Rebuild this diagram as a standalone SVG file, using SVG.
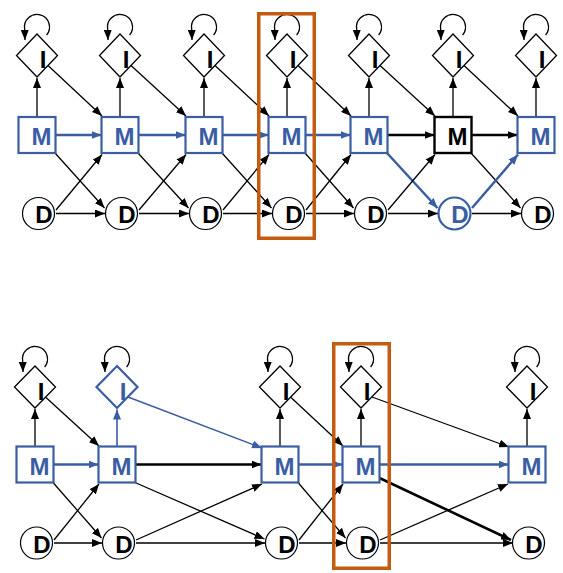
<svg xmlns="http://www.w3.org/2000/svg" width="563" height="573" viewBox="0 0 563 573">
<defs>
<marker id="ab" markerUnits="userSpaceOnUse" markerWidth="10" markerHeight="8" viewBox="0 0 10 8" refX="10" refY="4" orient="auto"><path d="M0,0 L10,4 L0,8 z" fill="#000"/></marker>
<marker id="abl" markerUnits="userSpaceOnUse" markerWidth="10" markerHeight="8" viewBox="0 0 10 8" refX="10" refY="4" orient="auto"><path d="M0,0 L10,4 L0,8 z" fill="#3A5DA4"/></marker>
<style>
.e{stroke:#000;stroke-width:1.3;fill:none;marker-end:url(#ab)}
.ek{stroke:#000;stroke-width:2.6;fill:none;marker-end:url(#ab)}
.eb{stroke:#3A5DA4;stroke-width:2.5;fill:none;marker-end:url(#abl)}
.ebt{stroke:#3A5DA4;stroke-width:1.4;fill:none;marker-end:url(#abl)}
.dia{fill:#fff;stroke:#000;stroke-width:1.3}
.diab{fill:#fff;stroke:#3A5DA4;stroke-width:2.2}
.mb{fill:#fff;stroke:#3A5DA4;stroke-width:2.2}
.mk{fill:#fff;stroke:#000;stroke-width:2.4}
.dc{fill:#fff;stroke:#000;stroke-width:1.2}
.dcb{fill:#fff;stroke:#3A5DA4;stroke-width:2.2}
.t{font-family:"Liberation Sans",Arial,sans-serif;font-weight:bold;font-size:24px;text-anchor:middle;fill:#000}
.tb{fill:#3A5DA4}
.hl{fill:none;stroke:#C55A11;stroke-width:3.5}
</style>
</defs>
<g id="connectors">
<!-- top loops -->
<path class="e" d="M46.6,35 A12.5 12.5 0 1 0 24.7,29.2 L25,40"/>
<path class="e" d="M129.6,35 A12.5 12.5 0 1 0 107.7,29.2 L108,40"/>
<path class="e" d="M213.6,35 A12.5 12.5 0 1 0 191.7,29.2 L192,40"/>
<path class="e" d="M296.6,35 A12.5 12.5 0 1 0 274.7,29.2 L275,40"/>
<path class="e" d="M378.6,35 A12.5 12.5 0 1 0 356.7,29.2 L357,40"/>
<path class="e" d="M462.6,35 A12.5 12.5 0 1 0 440.7,29.2 L441,40"/>
<path class="e" d="M545.6,35 A12.5 12.5 0 1 0 523.7,29.2 L524,40"/>
<!-- top M->I -->
<line class="e" x1="37" y1="117" x2="37" y2="78"/>
<line class="e" x1="120" y1="117" x2="120" y2="78"/>
<line class="e" x1="204" y1="117" x2="204" y2="78"/>
<line class="e" x1="287" y1="117" x2="287" y2="78"/>
<line class="e" x1="369" y1="117" x2="369" y2="78"/>
<line class="e" x1="453" y1="117" x2="453" y2="78"/>
<line class="e" x1="536" y1="117" x2="536" y2="78"/>
<!-- top I->M next -->
<line class="e" x1="48" y1="65.5" x2="102" y2="116"/>
<line class="e" x1="131" y1="65.5" x2="186" y2="116"/>
<line class="e" x1="215" y1="65.5" x2="269" y2="116"/>
<line class="e" x1="298" y1="65.5" x2="351" y2="116"/>
<line class="e" x1="380" y1="65.5" x2="435" y2="116"/>
<line class="e" x1="464" y1="65.5" x2="518" y2="116"/>
<!-- top M->M -->
<line class="eb" x1="55.5" y1="135" x2="101.5" y2="135"/>
<line class="eb" x1="138.5" y1="135" x2="185.5" y2="135"/>
<line class="eb" x1="222.5" y1="135" x2="268.5" y2="135"/>
<line class="eb" x1="305.5" y1="135" x2="350.5" y2="135"/>
<line class="ek" x1="387.5" y1="135" x2="434.5" y2="135"/>
<line class="ek" x1="471.5" y1="135" x2="517.5" y2="135"/>
<!-- top M->D next -->
<line class="e" x1="55" y1="153" x2="104.5" y2="208"/>
<line class="e" x1="138" y1="153" x2="188.5" y2="208"/>
<line class="e" x1="222" y1="153" x2="271.5" y2="208"/>
<line class="e" x1="305" y1="153" x2="353.5" y2="208"/>
<line class="eb" x1="387" y1="153" x2="437.5" y2="208"/>
<line class="e" x1="471" y1="153" x2="520.5" y2="208"/>
<!-- top D->M next -->
<line class="e" x1="56" y1="210" x2="102" y2="154.5"/>
<line class="e" x1="139" y1="210" x2="186" y2="154.5"/>
<line class="e" x1="223" y1="210" x2="269" y2="154.5"/>
<line class="e" x1="306" y1="210" x2="351" y2="154.5"/>
<line class="e" x1="388" y1="210" x2="435" y2="154.5"/>
<line class="eb" x1="472" y1="208" x2="518" y2="154.5"/>
<!-- top D->D -->
<line class="e" x1="56" y1="213.5" x2="105" y2="213.5"/>
<line class="e" x1="139" y1="213.5" x2="189" y2="213.5"/>
<line class="e" x1="223" y1="213.5" x2="272" y2="213.5"/>
<line class="e" x1="306" y1="213.5" x2="354" y2="213.5"/>
<line class="e" x1="388" y1="213.5" x2="438" y2="213.5"/>
<line class="e" x1="472" y1="213.5" x2="521" y2="213.5"/>

<!-- bottom loops -->
<path class="e" d="M44.6,367 A12.5 12.5 0 1 0 22.7,361.2 L23,372"/>
<path class="e" d="M126.6,367 A12.5 12.5 0 1 0 104.7,361.2 L105,372"/>
<path class="e" d="M289.6,367 A12.5 12.5 0 1 0 267.7,361.2 L268,372"/>
<path class="e" d="M370.6,367 A12.5 12.5 0 1 0 348.7,361.2 L349,372"/>
<path class="e" d="M536.6,367 A12.5 12.5 0 1 0 514.7,361.2 L515,372"/>
<!-- bottom M->I -->
<line class="e" x1="35" y1="446.5" x2="35" y2="409"/>
<line class="eb" x1="117" y1="446.5" x2="117" y2="409.5" style="stroke-width:1.6"/>
<line class="e" x1="280" y1="446.5" x2="280" y2="409"/>
<line class="e" x1="361" y1="446.5" x2="361" y2="409"/>
<line class="e" x1="527" y1="446.5" x2="527" y2="409"/>
<!-- bottom I->M -->
<line class="e" x1="46" y1="397.5" x2="99" y2="446"/>
<line class="ebt" x1="128" y1="397" x2="262" y2="448"/>
<line class="e" x1="291" y1="397.5" x2="343" y2="446"/>
<line class="e" x1="372" y1="397" x2="509" y2="447"/>
<!-- bottom M->M -->
<line class="eb" x1="53.5" y1="464.5" x2="98.5" y2="464.5"/>
<line class="ek" x1="135.5" y1="464.5" x2="261.5" y2="464.5"/>
<line class="eb" x1="298.5" y1="464.5" x2="342.5" y2="464.5"/>
<line class="eb" x1="379.5" y1="464.5" x2="508.5" y2="464.5"/>
<!-- bottom M->D -->
<line class="e" x1="53" y1="482.5" x2="101.5" y2="538"/>
<line class="e" x1="135" y1="482.5" x2="264.5" y2="539"/>
<line class="e" x1="298" y1="482.5" x2="345.5" y2="538"/>
<line class="ek" x1="379.5" y1="478" x2="511" y2="540"/>
<!-- bottom D->M -->
<line class="e" x1="54" y1="540" x2="99" y2="484"/>
<line class="e" x1="136" y1="540" x2="262" y2="484"/>
<line class="e" x1="299" y1="540" x2="343" y2="484"/>
<line class="e" x1="380" y1="540" x2="508" y2="484"/>
<!-- bottom D->D -->
<line class="e" x1="54" y1="543" x2="102" y2="543"/>
<line class="e" x1="136" y1="543" x2="265" y2="543"/>
<line class="e" x1="299" y1="543" x2="346" y2="543"/>
<line class="e" x1="380" y1="543" x2="513" y2="543"/>
</g>

<!-- top row nodes -->
<g id="I1"><polygon class="dia" points="37,34 57.5,55.5 37,77 16.5,55.5"/><text class="t" x="43" y="68">I</text></g>
<g id="I2"><polygon class="dia" points="120,34 140.5,55.5 120,77 99.5,55.5"/><text class="t" x="126" y="68">I</text></g>
<g id="I3"><polygon class="dia" points="204,34 224.5,55.5 204,77 183.5,55.5"/><text class="t" x="210" y="68">I</text></g>
<g id="I4"><polygon class="dia" points="287,34 307.5,55.5 287,77 266.5,55.5"/><text class="t" x="293" y="68">I</text></g>
<g id="I5"><polygon class="dia" points="369,34 389.5,55.5 369,77 348.5,55.5"/><text class="t" x="375" y="68">I</text></g>
<g id="I6"><polygon class="dia" points="453,34 473.5,55.5 453,77 432.5,55.5"/><text class="t" x="459" y="68">I</text></g>
<g id="I7"><polygon class="dia" points="536,34 556.5,55.5 536,77 515.5,55.5"/><text class="t" x="542" y="68">I</text></g>

<g id="M1"><rect class="mb" x="18.5" y="117" width="37" height="36"/><text class="t tb" x="41.5" y="145">M</text></g>
<g id="M2"><rect class="mb" x="101.5" y="117" width="37" height="36"/><text class="t tb" x="124.5" y="145">M</text></g>
<g id="M3"><rect class="mb" x="185.5" y="117" width="37" height="36"/><text class="t tb" x="208.5" y="145">M</text></g>
<g id="M4"><rect class="mb" x="268.5" y="117" width="37" height="36"/><text class="t tb" x="291.5" y="145">M</text></g>
<g id="M5"><rect class="mb" x="350.5" y="117" width="37" height="36"/><text class="t tb" x="373.5" y="145">M</text></g>
<g id="M6"><rect class="mk" x="434.5" y="117" width="37" height="36"/><text class="t" x="457.5" y="145">M</text></g>
<g id="M7"><rect class="mb" x="517.5" y="117" width="37" height="36"/><text class="t tb" x="540.5" y="145">M</text></g>

<g id="D1"><circle class="dc" cx="38.5" cy="213.5" r="16"/><text class="t" x="44" y="223">D</text></g>
<g id="D2"><circle class="dc" cx="121.5" cy="213.5" r="16"/><text class="t" x="127" y="223">D</text></g>
<g id="D3"><circle class="dc" cx="205.5" cy="213.5" r="16"/><text class="t" x="211" y="223">D</text></g>
<g id="D4"><circle class="dc" cx="288.5" cy="213.5" r="16"/><text class="t" x="294" y="223">D</text></g>
<g id="D5"><circle class="dc" cx="370.5" cy="213.5" r="16"/><text class="t" x="376" y="223">D</text></g>
<g id="D6"><circle class="dcb" cx="454.5" cy="213.5" r="16"/><text class="t tb" x="460" y="223">D</text></g>
<g id="D7"><circle class="dc" cx="537.5" cy="213.5" r="16"/><text class="t" x="543" y="223">D</text></g>

<!-- bottom row nodes -->
<g id="bI1"><polygon class="dia" points="35,366 55.5,387 35,408 14.5,387"/><text class="t" x="41" y="399.5">I</text></g>
<g id="bI2"><polygon class="diab" points="117,366 137.5,387 117,408 96.5,387"/><text class="t tb" x="123" y="399.5">I</text></g>
<g id="bI3"><polygon class="dia" points="280,366 300.5,387 280,408 259.5,387"/><text class="t" x="286" y="399.5">I</text></g>
<g id="bI4"><polygon class="dia" points="361,366 381.5,387 361,408 340.5,387"/><text class="t" x="367" y="399.5">I</text></g>
<g id="bI5"><polygon class="dia" points="527,366 547.5,387 527,408 506.5,387"/><text class="t" x="533" y="399.5">I</text></g>

<g id="bM1"><rect class="mb" x="16.5" y="446.5" width="37" height="36"/><text class="t tb" x="39.5" y="474.5">M</text></g>
<g id="bM2"><rect class="mb" x="98.5" y="446.5" width="37" height="36"/><text class="t tb" x="121.5" y="474.5">M</text></g>
<g id="bM3"><rect class="mb" x="261.5" y="446.5" width="37" height="36"/><text class="t tb" x="284.5" y="474.5">M</text></g>
<g id="bM4"><rect class="mb" x="342.5" y="446.5" width="37" height="36"/><text class="t tb" x="365.5" y="474.5">M</text></g>
<g id="bM5"><rect class="mb" x="508.5" y="446.5" width="37" height="36"/><text class="t tb" x="531.5" y="474.5">M</text></g>

<g id="bD1"><circle class="dc" cx="36.5" cy="543" r="16"/><text class="t" x="42" y="552.5">D</text></g>
<g id="bD2"><circle class="dc" cx="118.5" cy="543" r="16"/><text class="t" x="124" y="552.5">D</text></g>
<g id="bD3"><circle class="dc" cx="281.5" cy="543" r="16"/><text class="t" x="287" y="552.5">D</text></g>
<g id="bD4"><circle class="dc" cx="362.5" cy="543" r="16"/><text class="t" x="368" y="552.5">D</text></g>
<g id="bD5"><circle class="dc" cx="528.5" cy="543" r="16"/><text class="t" x="534" y="552.5">D</text></g>

<g id="highlights">
<rect class="hl" x="258.75" y="13.75" width="55.5" height="224.5"/>
<rect class="hl" x="333.75" y="343.75" width="55.5" height="224.5"/>
</g>
</svg>
